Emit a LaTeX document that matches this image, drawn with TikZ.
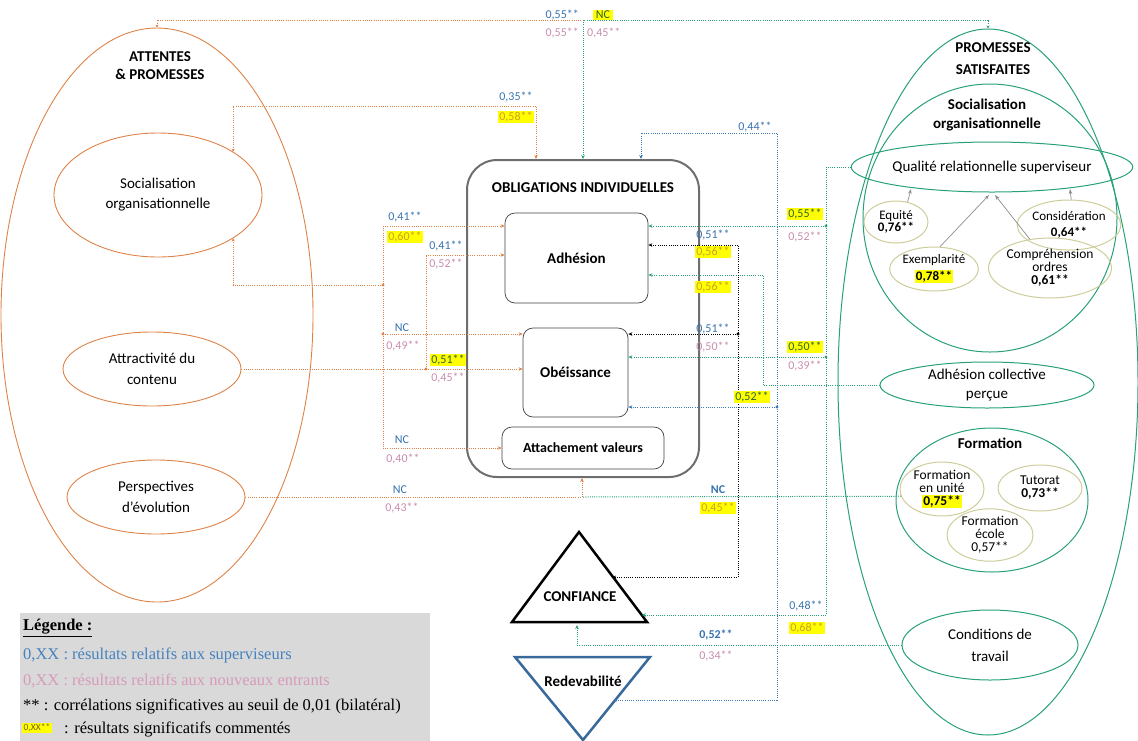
\documentclass[tikz,border=0pt]{standalone}
\usepackage{fontspec}
\setmainfont{Carlito}
\newfontfamily\legfont{Liberation Serif}
\usetikzlibrary{shapes.geometric,arrows.meta,calc}
\definecolor{orL}{RGB}{222,130,72}
\definecolor{grL}{RGB}{40,160,122}
\definecolor{blL}{RGB}{60,120,180}
\definecolor{blT}{RGB}{55,115,175}
\definecolor{pkT}{RGB}{200,140,175}
\definecolor{khk}{RGB}{205,205,155}
\definecolor{hlY}{RGB}{255,255,0}
\definecolor{hlG}{RGB}{45,100,45}
\definecolor{hlO}{RGB}{205,160,40}
\definecolor{bxG}{RGB}{110,110,110}
\definecolor{lgBg}{RGB}{217,217,217}
\definecolor{lgBl}{RGB}{70,130,190}
\definecolor{lgPk}{RGB}{215,155,185}
\definecolor{arG}{RGB}{140,140,140}
\definecolor{rdB}{RGB}{55,105,155}
\setlength{\fboxsep}{1pt}
\begin{document}
\begin{tikzpicture}[x=1pt,y=-1pt,
  ell/.style={ellipse, draw, inner sep=0pt, align=center},
  oell/.style={ell, draw=orL, line width=0.9pt, font=\fontsize{15}{21}\selectfont},
  gell/.style={ell, draw=grL, line width=1pt},
  kell/.style={ell, draw=khk, line width=1pt, font=\fontsize{13.5}{13}\selectfont},
  ibox/.style={draw=black!75, rounded corners=10pt, line width=0.7pt, font=\bfseries\fontsize{15}{17}\selectfont},
  conn/.style={line width=1pt, dash pattern=on 1pt off 1.2pt},
  oc/.style={conn, draw=orL},
  gc/.style={conn, draw=grL},
  bc/.style={conn, draw=blL},
  kc/.style={conn, draw=black},
  tipend/.style={-{Stealth[length=4pt,width=3.5pt]}},
  tipboth/.style={{Stealth[length=3pt,width=3pt]}-{Stealth[length=4pt,width=3.5pt]}},
  lab/.style={font=\fontsize{12}{13}\selectfont, inner sep=1pt},
  lb/.style={lab, text=blT},
  lp/.style={lab, text=pkT},
  lyg/.style={lab, fill=hlY, text=hlG},
  lyo/.style={lab, fill=hlY, text=hlO},
  title/.style={font=\bfseries\fontsize{15}{17}\selectfont, align=center},
]
\useasboundingbox (0,0) rectangle (1138,740);

% ---------------- left side
\node[oell, minimum width=312, minimum height=574] (att) at (157,315) {};
\node[title, font=\bfseries\fontsize{15}{18}\selectfont] (attT) at (160,66) {ATTENTES\\\& PROMESSES};
\node[oell, minimum width=208, minimum height=124, font=\fontsize{15}{20}\selectfont] (soc) at (158,195) {Socialisation\\organisationnelle};
\node[oell, minimum width=178, minimum height=74] (attr) at (152,369) {Attractivité du\\contenu};
\node[oell, minimum width=178, minimum height=74] (persp) at (156,497) {Perspectives\\d’évolution};

% ---------------- centre
\node[draw=bxG, line width=2pt, rounded corners=30pt, minimum width=232, minimum height=317] (obl) at (583,318.5) {};
\node[title] (oblT) at (583,188) {OBLIGATIONS INDIVIDUELLES};
\node[ibox, minimum width=143, minimum height=90] (adh) at (576.5,258) {Adhésion};
\node[ibox, minimum width=105, minimum height=89] (obe) at (575.5,372.5) {Obéissance};
\node[ibox, minimum width=162, minimum height=42, font=\bfseries\fontsize{14}{16}\selectfont] (attv) at (583,448) {Attachement valeurs};

% triangles
\coordinate (cA) at (579,532);
\coordinate (cL) at (512,622);
\coordinate (cR) at (647,622);
\draw[line width=2.5pt, line join=miter] (cA) -- (cL) -- (cR) -- cycle;
\node[title] (confT) at (580,597) {CONFIANCE};
\coordinate (rL) at (515,657);
\coordinate (rR) at (650,657);
\coordinate (rB) at (583,740);
\draw[draw=rdB, line width=2.5pt, line join=miter] (rL) -- (rR) -- (rB) -- cycle;
\node[title] (redT) at (583,681) {Redevabilité};

% ---------------- right side
\node[gell, minimum width=300, minimum height=706] (prom) at (988,382) {};
\node[title, font=\bfseries\fontsize{15}{22}\selectfont] (promT) at (993,59) {PROMESSES\\SATISFAITES};
\node[gell, minimum width=254, minimum height=268] (socR) at (990,218) {};
\node[title, font=\bfseries\fontsize{15}{19}\selectfont] (socRT) at (987,115) {Socialisation\\organisationnelle};
\node[gell, minimum width=220, minimum height=50, font=\fontsize{15}{17}\selectfont] (qual) at (992,167) {Qualité relationnelle superviseur};
\node[kell, minimum width=64, minimum height=42, font=\fontsize{13}{12}\selectfont] (equ) at (896,222) {Equité\\\textbf{0,76**}};
\node[kell, minimum width=82, minimum height=50, font=\fontsize{13}{16}\selectfont] (cons) at (1069,225) {Considération\\\textbf{0,64**}};
\node[kell, minimum width=86, minimum height=44, font=\fontsize{13}{17}\selectfont] (exe) at (934,269) {Exemplarité\\\colorbox{hlY}{\textbf{0,78**}}};
\node[kell, minimum width=114, minimum height=60] (comp) at (1050,268) {Compréhension\\ordres\\\textbf{0,61**}};
\coordinate (qE) at (911,189);
\coordinate (qX) at (989,195);
\coordinate (qC) at (995,195);
\coordinate (qK) at (1070,189);
\draw[arG, line width=0.7pt, -{Stealth[length=5pt,width=3.5pt]}] (equ.60) -- (qE);
\draw[arG, line width=0.7pt, -{Stealth[length=5pt,width=3.5pt]}] (exe.75) -- (qX);
\draw[arG, line width=0.7pt, -{Stealth[length=5pt,width=3.5pt]}] (comp.125) -- (qC);
\draw[arG, line width=0.7pt, -{Stealth[length=5pt,width=3.5pt]}] (cons.85) -- (qK);

\node[gell, minimum width=214, minimum height=46, font=\fontsize{15}{19}\selectfont] (acp) at (987,385) {Adhésion collective\\perçue};
\node[gell, minimum width=192, minimum height=144] (form) at (992,500) {};
\node[title] (formT) at (990,443) {Formation};
\node[kell, minimum width=84, minimum height=48] (fu) at (942,489) {Formation\\en unité\\\colorbox{hlY}{\textbf{0,75**}}};
\node[kell, minimum width=84, minimum height=46, font=\fontsize{13.5}{13}\selectfont] (tut) at (1040,488) {Tutorat\\\textbf{0,73**}};
\node[kell, minimum width=86, minimum height=50] (fe) at (990,535) {Formation\\école\\0,57**};
\node[gell, minimum width=176, minimum height=70, font=\fontsize{15}{22}\selectfont] (cond) at (990,645) {Conditions de\\travail};

% ---------------- connectors
% top
\coordinate (cTop) at (583,20);
\draw[oc, {Stealth[length=3pt,width=3pt]}-] (att.north) |- (cTop);
\draw[gc, {Stealth[length=3pt,width=3pt]}-] (prom.north) |- (cTop);
\draw[gc, tipend] (cTop) -- (cTop |- obl.north);
% socialisation -> box top
\coordinate (c1) at (536,106);
\draw[oc, tipboth] (soc.30) |- (c1) -- (c1 |- obl.north);
% socialisation bus
\coordinate (b1) at (383,285);
\coordinate (bA) at (383,226);
\coordinate (bO) at (383,334);
\coordinate (bV) at (383,448);
\draw[oc, {Stealth[length=3pt,width=3pt]}-] (soc.-30) |- (b1);
\draw[oc] (bA) -- (bV);
\draw[oc, tipend] (bA) -- (bA -| adh.west);
\draw[oc, tipend] (bO) -- (bO -| obe.west);
\draw[oc, tipend] (bV) -- (attv.west);
% attractivite
\coordinate (j2) at (426,369);
\coordinate (j2t) at (426,255);
\draw[oc, tipend] (attr.east) -- (attr.east -| obe.west);
\draw[oc] (j2) -- (j2t);
\draw[oc, tipend] (j2t) -- (j2t -| adh.west);
% perspectives / formation
\coordinate (jP) at (582,497);
\draw[oc] (persp.east) -- (jP);
\draw[oc, tipend] (jP) -- (jP |- obl.south);
\draw[gc] (fu.190) -- (jP);
% qualite relationnelle
\coordinate (q1) at (826,167);
\coordinate (qA) at (826,226);
\coordinate (qO) at (826,357);
\coordinate (qCf) at (826,615);
\coordinate (confR) at (642,615);
\draw[gc] (qual.west) -- (q1) -- (qCf);
\draw[gc, tipend] (qA) -- (qA -| adh.east);
\draw[gc, tipend] (qO) -- (qO -| obe.east);
\draw[gc, tipend] (qCf) -- (confR);
% adhesion collective percue
\coordinate (a1) at (763,385);
\coordinate (a2) at (763,275);
\draw[gc, tipend] (acp.west) -- (a1) -- (a2) -- (a2 -| adh.east);
% conditions de travail
\coordinate (d1) at (577,645);
\coordinate (d2) at (577,625);
\draw[gc, tipend] (cond.west) -- (d1) -- (d2);
% confiance (black)
\coordinate (k0) at (613,577);
\coordinate (k1) at (738,577);
\coordinate (kA) at (738,245);
\coordinate (kO) at (738,334);
\draw[kc, tipboth] (k0) -- (k1) -- (kA) -- (kA -| adh.east);
\draw[kc, tipend] (kO) -- (kO -| obe.east);
% redevabilite (blue)
\coordinate (r0) at (614,700);
\coordinate (r1) at (777,700);
\coordinate (r2) at (777,133);
\coordinate (r3) at (641,133);
\coordinate (rO) at (777,407);
\draw[bc, tipboth] (r0) -- (r1) -- (r2) -- (r3) -- (r3 |- obl.north);
\draw[bc, tipend] (rO) -- (rO -| obe.east);
% junction dots
\fill[orL] (b1) circle (1.7) (bO) circle (1.7) (j2) circle (1.7);
\fill[grL] (qA) circle (1.7) (qO) circle (1.7);
\fill[black] (kO) circle (1.7);
\fill[blL] (rO) circle (1.7);

% ---------------- labels
\node[lb, anchor=east] (t1) at (580,15) {0,55**};
\node[lyg] (t2) at (603,15) {\,NC\,};
\node[lp, anchor=east] (t3) at (580,33) {0,55**};
\node[lp, anchor=west] (t4) at (586,33) {0,45**};
\node[lb] (s1) at (516,97) {0,35**};
\node[lyo] (s2) at (516,117) {0,58**};
\node[lb] (s3) at (405,217) {0,41**};
\node[lyo] (s4) at (405,237) {0,60**};
\node[lb] (s5) at (446,246) {0,41**};
\node[lp] (s6) at (446,264) {0,52**};
\node[lb] (s7) at (402,328) {NC};
\node[lp] (s8) at (403,346) {0,49**};
\node[lyg] (s9) at (448,360) {0,51**};
\node[lp] (s10) at (448,378) {0,45**};
\node[lb] (s11) at (402,440) {NC};
\node[lp] (s12) at (403,459) {0,40**};
\node[lb] (s13) at (400,490) {NC};
\node[lp] (s14) at (402,508) {0,43**};
\node[lb] (u1) at (755,127) {0,44**};
\node[lyg] (u2) at (805,214) {0,55**};
\node[lp] (u3) at (805,237) {0,52**};
\node[lb] (u4) at (713,235) {0,51**};
\node[lyo] (u5) at (713,252) {0,56**};
\node[lyo] (u6) at (713,287) {0,56**};
\node[lb] (u7) at (713,329) {0,51**};
\node[lp] (u8) at (713,347) {0,50**};
\node[lyg] (u9) at (805,347) {0,50**};
\node[lp] (u10) at (805,366) {0,39**};
\node[lyg] (u11) at (752,397) {0,52**};
\node[lb, font=\bfseries\fontsize{12}{13}\selectfont] (u12) at (718,490) {NC};
\node[lyo] (u13) at (718,508) {0,45**};
\node[lb] (u14) at (806,606) {0,48**};
\node[lyo] (u15) at (807,628) {0,68**};
\node[lb, font=\bfseries\fontsize{12}{13}\selectfont] (u16) at (716,635) {0,52**};
\node[lp] (u17) at (716,656) {0,34**};

% ---------------- legend
\node[fill=lgBg, minimum width=410, minimum height=128, anchor=north west, inner sep=0pt] (leg) at (20,613) {};
\node[anchor=west, font=\legfont\fontsize{16.5}{18}\selectfont, inner sep=0pt] (lg1) at (23,628) {\textbf{\underline{Légende :}}};
\node[anchor=west, font=\legfont\fontsize{16.5}{18}\selectfont, inner sep=0pt, text=lgBl] (lg2) at (23,655) {0,XX : résultats relatifs aux superviseurs};
\node[anchor=west, font=\legfont\fontsize{16.5}{18}\selectfont, inner sep=0pt, text=lgPk] (lg3) at (23,681) {0,XX : résultats relatifs aux nouveaux entrants};
\node[anchor=west, font=\legfont\fontsize{16.5}{18}\selectfont, inner sep=0pt] (lg4) at (23,706) {** : corrélations significatives au seuil de 0,01 (bilatéral)};
\node[fill=hlY, font=\fontsize{9.5}{10}\selectfont, text=hlO!60!black, inner sep=1.5pt] (lg5) at (37,728) {0,XX**};
\node[anchor=west, font=\legfont\fontsize{16.5}{18}\selectfont, inner sep=0pt] (lg6) at (64,729) {: résultats significatifs commentés};
\end{tikzpicture}
\end{document}
